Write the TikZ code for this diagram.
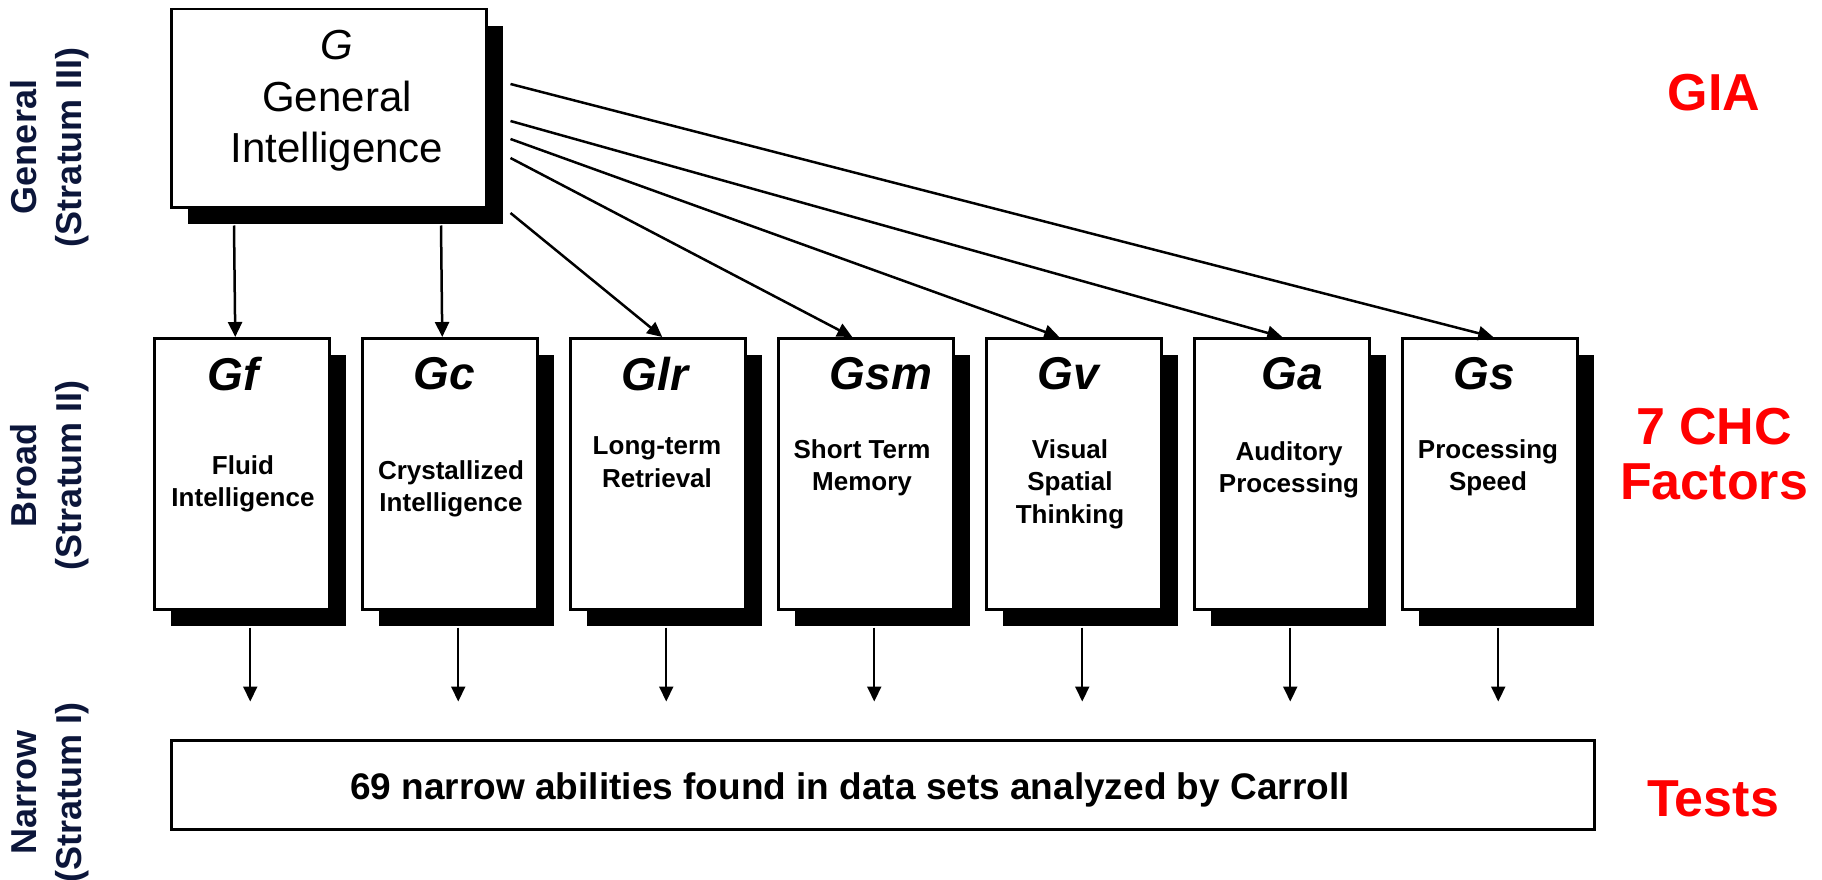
\documentclass[tikz,border=0pt]{standalone}
\usepackage{fontspec}
\setmainfont{Liberation Sans}
\usetikzlibrary{arrows.meta,shadows,calc}
\definecolor{navy}{RGB}{12,22,58}
\definecolor{hot}{RGB}{255,0,0}

\begin{document}
\begin{tikzpicture}[x=1pt,y=-1pt,
  shadowbox/.style={draw=black, line width=2.5pt, fill=white, anchor=north west,
    inner sep=0pt, rectangle,
    drop shadow={shadow xshift=17pt, shadow yshift=-17pt, fill=black, opacity=1}},
  gbox/.style={shadowbox, minimum width=315pt, minimum height=198pt},
  broad/.style={shadowbox, minimum width=175pt, minimum height=271pt},
  head/.style={font=\fontsize{46}{50}\selectfont\bfseries\itshape, inner sep=0pt},
  desc/.style={font=\fontsize{26}{32.5}\selectfont\bfseries, align=center, inner sep=0pt},
  stratum/.style={font=\fontsize{36}{45}\selectfont\bfseries, text=navy, align=center,
    rotate=90, inner sep=0pt},
  level/.style={font=\fontsize{52}{55}\selectfont\bfseries, text=hot, align=center, inner sep=0pt},
  link/.style={line width=2.5pt, -{Triangle[length=15pt,width=14pt]}},
  down/.style={line width=2pt, -{Triangle[length=15pt,width=14pt]}}]

\useasboundingbox (0,0) rectangle (1822,880);

% general factor
\node[gbox] (g) at (170,8) {};
\node[font=\fontsize{42}{51.5}\selectfont, align=center, inner sep=0pt] (gtext) at (337,101)
  {\textit{G}\\General\\Intelligence};

% broad abilities
\node[broad] (gf)  at (153,337)  {};
\node[broad] (gc)  at (361,337)  {};
\node[broad] (glr) at (569,337)  {};
\node[broad] (gsm) at (777,337)  {};
\node[broad] (gv)  at (985,337)  {};
\node[broad] (ga)  at (1193,337) {};
\node[broad] (gs)  at (1401,337) {};

\node[head] (gfh)  at (233,374)  {Gf};
\node[head] (gch)  at (444,374)  {Gc};
\node[head] (glrh) at (655,374)  {Glr};
\node[head] (gsmh) at (881,374)  {Gsm};
\node[head] (gvh)  at (1068,374) {Gv};
\node[head] (gah)  at (1292,374) {Ga};
\node[head] (gsh)  at (1484,374) {Gs};

\node[desc] (gfd)  at (243,484)  {Fluid\\Intelligence};
\node[desc] (gcd)  at (451,489)  {Crystallized\\Intelligence};
\node[desc] (glrd) at (657,462)  {Long-term\\Retrieval};
\node[desc] (gsmd) at (862,468)  {Short Term\\Memory};
\node[desc] (gvd)  at (1070,484) {Visual\\Spatial\\Thinking};
\node[desc] (gad)  at (1289,470) {Auditory\\Processing};
\node[desc] (gsd)  at (1488,468) {Processing\\Speed};

% narrow abilities
\node[draw=black, line width=2.5pt, anchor=north west, minimum width=1423pt,
  minimum height=89pt, inner sep=0pt] (narrow) at (170,739) {};
\node[font=\fontsize{37}{40}\selectfont\bfseries, inner sep=0pt] (narrowtext) at (850,790)
  {69 narrow abilities found in data sets analyzed by Carroll};

% stratum captions
\node[stratum] (s3) at (50,147) {General\\(Stratum III)};
\node[stratum] (s2) at (50,475) {Broad\\(Stratum II)};
\node[stratum] (s1) at (50,792) {Narrow\\(Stratum I)};

% measurement levels
\node[level] (gia)   at (1714,93)  {GIA};
\node[level] (chc)   at (1714,454) {7 CHC\\Factors};
\node[level] (tests) at (1713,799) {Tests};

% loadings of G on the broad factors
\draw[link] ($(g.south west)+(64,17)$)  -- ($(gf.north)+(-6.5,0)$);
\draw[link] ($(g.south west)+(271,17)$) -- ($(gc.north)+(-7.5,0)$);
\draw[link] ($(g.north east)+(23,205)$) -- ($(glr.north)+(4.5,0)$);
\draw[link] ($(g.north east)+(23,150)$) -- ($(gsm.north)+(-13.5,0)$);
\draw[link] ($(g.north east)+(23,131)$) -- ($(gv.north)+(-14.5,0)$);
\draw[link] ($(g.north east)+(23,113)$) -- ($(ga.north)+(0.5,0)$);
\draw[link] ($(g.north east)+(23,76)$)  -- ($(gs.north)+(3.5,0)$);

% broad factors down to the narrow abilities
\foreach \b in {gf,gc,glr,gsm,gv,ga,gs}{
  \coordinate (\b-top) at ($(\b.south)+(8.5,17)$);
  \coordinate (\b-end) at ($(\b-top)+(0,74)$);
  \draw[down] (\b-top) -- (\b-end);
}
\end{tikzpicture}
\end{document}
